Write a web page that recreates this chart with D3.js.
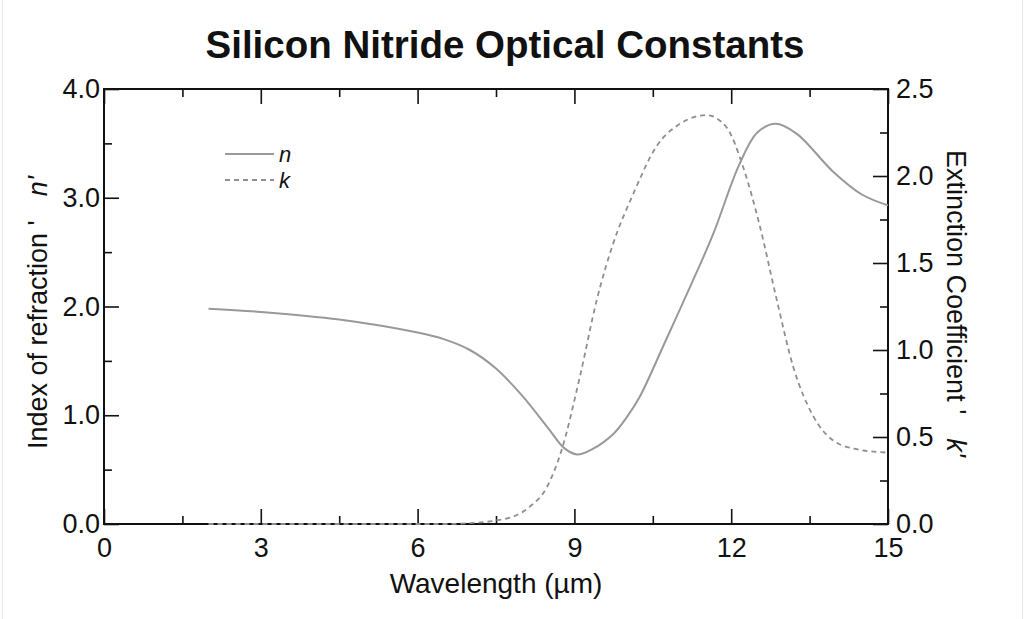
<!DOCTYPE html>
<html>
<head>
<meta charset="utf-8">
<script src="https://cdn.jsdelivr.net/npm/d3@7"></script>
<style>
  body { margin: 0; background: #fff; }
  svg text { font-family: "Liberation Sans", Arial, sans-serif; fill: #111; }
</style>
</head>
<body>
<div id="chart"></div>
<script>
// wavelength (µm) and refractive index n
const nWave = [2.0, 3.0, 4.5, 6.0, 6.5, 7.0, 7.5, 8.0, 8.5, 8.8, 9.05, 9.35, 9.75, 10.0, 10.25, 10.75, 11.25, 11.65, 12.15, 12.5, 12.85, 13.25, 13.95, 14.5, 15.0];
const nValues = [1.98, 1.95, 1.88, 1.76, 1.70, 1.60, 1.43, 1.18, 0.88, 0.70, 0.64, 0.69, 0.83, 0.98, 1.17, 1.69, 2.22, 2.66, 3.30, 3.60, 3.68, 3.59, 3.24, 3.03, 2.93];

// wavelength (µm) and extinction coefficient k
const kWave = [2.0, 6.5, 7.0, 7.5, 7.85, 8.15, 8.47, 8.75, 9.1, 9.43, 9.74, 10.13, 10.57, 11.02, 11.53, 11.91, 12.23, 12.55, 12.87, 13.19, 13.57, 13.95, 14.4, 15.0];
const kValues = [0.0, 0.0, 0.005, 0.02, 0.045, 0.10, 0.21, 0.42, 0.84, 1.29, 1.61, 1.90, 2.17, 2.30, 2.35, 2.28, 2.05, 1.71, 1.29, 0.90, 0.62, 0.48, 0.43, 0.41];

const xTicks = [0, 3, 6, 9, 12, 15];
const xMinor = [1.5, 4.5, 7.5, 10.5, 13.5];
const nTicks = [0, 1, 2, 3, 4];
const nMinor = [0.5, 1.5, 2.5, 3.5];
const kTicks = [0, 0.5, 1.0, 1.5, 2.0, 2.5];
const kMinor = [0.25, 0.75, 1.25, 1.75, 2.25];

const W = 1024, H = 619;
const margin = { top: 89, right: 136, bottom: 95, left: 104 },
      width = W - margin.left - margin.right,
      height = H - margin.top - margin.bottom;

const svg = d3.select("#chart").append("svg")
  .attr("width", W)
  .attr("height", H);

svg.append("rect")
  .attr("x", 2.5).attr("y", -2)
  .attr("width", W - 4).attr("height", H + 4)
  .attr("fill", "none")
  .attr("stroke", "#e6e6e6");

const g = svg.append("g")
  .attr("transform", `translate(${margin.left},${margin.top})`);

const x = d3.scaleLinear().domain([0, 15]).range([0, width]);
const yN = d3.scaleLinear().domain([0, 4]).range([height, 0]);
const yK = d3.scaleLinear().domain([0, 2.5]).range([height, 0]);

const major = 15, minor = 8;

// axes with inward ticks
function styleAxis(sel) {
  sel.select(".domain").remove();
  sel.selectAll(".tick line").attr("stroke", "#111").attr("stroke-width", 1.6);
  sel.selectAll(".tick text").style("font-size", "27px");
}

g.append("g")
  .attr("transform", `translate(0,${height})`)
  .call(d3.axisBottom(x).tickValues(xTicks).tickSizeInner(-major).tickSizeOuter(0).tickPadding(14).tickFormat(d3.format("d")))
  .call(styleAxis);
g.append("g")
  .attr("transform", `translate(0,${height})`)
  .call(d3.axisBottom(x).tickValues(xMinor).tickSizeInner(-minor).tickSizeOuter(0).tickFormat(""))
  .call(styleAxis);
g.append("g")
  .call(d3.axisTop(x).tickValues(xTicks).tickSizeInner(-major).tickSizeOuter(0).tickFormat(""))
  .call(styleAxis);
g.append("g")
  .call(d3.axisTop(x).tickValues(xMinor).tickSizeInner(-minor).tickSizeOuter(0).tickFormat(""))
  .call(styleAxis);

g.append("g")
  .call(d3.axisLeft(yN).tickValues(nTicks).tickSizeInner(-major).tickSizeOuter(0).tickPadding(4).tickFormat(d3.format(".1f")))
  .call(styleAxis);
g.append("g")
  .call(d3.axisLeft(yN).tickValues(nMinor).tickSizeInner(-minor).tickSizeOuter(0).tickFormat(""))
  .call(styleAxis);

g.append("g")
  .attr("transform", `translate(${width},0)`)
  .call(d3.axisRight(yK).tickValues(kTicks).tickSizeInner(-major).tickSizeOuter(0).tickPadding(8).tickFormat(d3.format(".1f")))
  .call(styleAxis);
g.append("g")
  .attr("transform", `translate(${width},0)`)
  .call(d3.axisRight(yK).tickValues(kMinor).tickSizeInner(-minor).tickSizeOuter(0).tickFormat(""))
  .call(styleAxis);

// frame
g.append("rect")
  .attr("width", width).attr("height", height)
  .attr("fill", "none")
  .attr("stroke", "#111")
  .attr("stroke-width", 2);

// curves
const nData = nWave.map((w, i) => ({ w, v: nValues[i] }));
const kData = kWave.map((w, i) => ({ w, v: kValues[i] }));

const nLine = d3.line().x(d => x(d.w)).y(d => yN(d.v)).curve(d3.curveCatmullRom.alpha(0.5));
const kLine = d3.line().x(d => x(d.w)).y(d => yK(d.v)).curve(d3.curveMonotoneX);

g.append("path")
  .datum(kData)
  .attr("d", kLine)
  .attr("fill", "none")
  .attr("stroke", "#8f8f8f")
  .attr("stroke-width", 1.8)
  .attr("stroke-dasharray", "5,4");

g.append("path")
  .datum(nData)
  .attr("d", nLine)
  .attr("fill", "none")
  .attr("stroke", "#999")
  .attr("stroke-width", 2);

// legend
const legend = svg.append("g").attr("transform", "translate(225,154)");
legend.append("line")
  .attr("x1", 0).attr("x2", 49).attr("y1", 0).attr("y2", 0)
  .attr("stroke", "#999").attr("stroke-width", 2);
legend.append("line")
  .attr("x1", 0).attr("x2", 49).attr("y1", 26).attr("y2", 26)
  .attr("stroke", "#8f8f8f").attr("stroke-width", 1.8).attr("stroke-dasharray", "5,4");
legend.append("text").attr("x", 54).attr("y", 8)
  .style("font-size", "22px").style("font-style", "italic").text("n");
legend.append("text").attr("x", 54).attr("y", 34)
  .style("font-size", "22px").style("font-style", "italic").text("k");

// titles
svg.append("text")
  .attr("x", 505).attr("y", 58)
  .attr("text-anchor", "middle")
  .style("font-size", "38.5px")
  .style("font-weight", "bold")
  .text("Silicon Nitride Optical Constants");

svg.append("text")
  .attr("x", 496).attr("y", 593)
  .attr("text-anchor", "middle")
  .style("font-size", "28px")
  .text("Wavelength (µm)");

const yl = svg.append("text")
  .attr("transform", "translate(47,449) rotate(-90)")
  .attr("text-anchor", "start")
  .style("font-size", "27px");
yl.append("tspan").text("Index of refraction '");
yl.append("tspan").attr("dx", 24).style("font-style", "italic").text("n'");

const yr = svg.append("text")
  .attr("transform", "translate(947,150) rotate(90)")
  .attr("text-anchor", "start")
  .style("font-size", "27px");
yr.append("tspan").text("Extinction Coefficient '");
yr.append("tspan").attr("dx", 24).style("font-style", "italic").text("k'");
</script>
</body>
</html>
